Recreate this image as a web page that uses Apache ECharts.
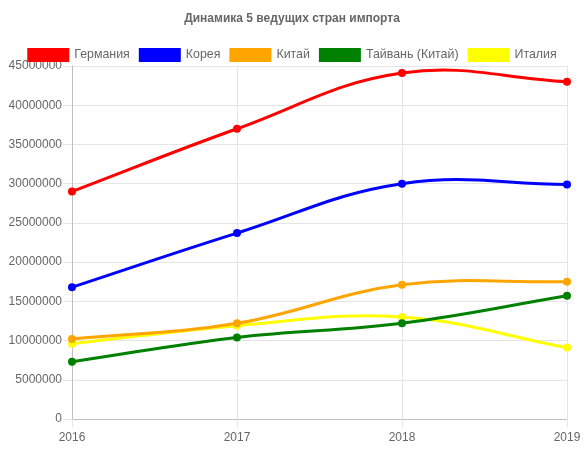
<!DOCTYPE html>
<html><head><meta charset="utf-8">
<script src="https://cdn.jsdelivr.net/npm/echarts@6/dist/echarts.min.js"></script>
<style>html,body{margin:0;padding:0;background:#fff}#c{width:584px;height:450px}</style>
</head><body><div id="c"></div>
<script>
const years = ['2016','2017','2018','2019'];
const germany = [29000000, 37000000, 44100000, 43000000];
const korea = [16800000, 23700000, 30000000, 29900000];
const china = [10200000, 12200000, 17100000, 17500000];
const taiwan = [7300000, 10400000, 12200000, 15700000];
const italy = [9600000, 11900000, 13000000, 9100000];
const names = ['Германия','Корея','Китай','Тайвань (Китай)','Италия'];
const colors = ['#ff0000','#0000ff','#ffa500','#008000','#ffff00'];
const data = [germany, korea, china, taiwan, italy];

const TENSION = 0.4;
function makeSeries(i) {
  const vals = data[i];
  const color = colors[i];
  return {
    name: names[i], type: 'custom', z: 2 + (names.length - i),
    itemStyle: {color: color},
    encode: {x: 0, y: 1},
    data: vals.map((v, k) => [k, v]),
    renderItem: function (params, api) {
      const idx = params.dataIndex;
      const n = vals.length;
      const P = vals.map((v, k) => api.coord([k, v]));
      function cps(k) {
        const prev = P[Math.max(k - 1, 0)], cur = P[k], next = P[Math.min(k + 1, n - 1)];
        const d01 = Math.hypot(cur[0] - prev[0], cur[1] - prev[1]);
        const d12 = Math.hypot(next[0] - cur[0], next[1] - cur[1]);
        let s01 = d01 / (d01 + d12), s12 = d12 / (d01 + d12);
        if (isNaN(s01)) s01 = 0; if (isNaN(s12)) s12 = 0;
        const fa = TENSION * s01, fb = TENSION * s12;
        return [
          [cur[0] - fa * (next[0] - prev[0]), cur[1] - fa * (next[1] - prev[1])],
          [cur[0] + fb * (next[0] - prev[0]), cur[1] + fb * (next[1] - prev[1])]
        ];
      }
      const children = [];
      if (idx < n - 1) {
        const a = cps(idx)[1], b = cps(idx + 1)[0];
        children.push({
          type: 'bezierCurve',
          shape: {x1: P[idx][0], y1: P[idx][1], x2: P[idx + 1][0], y2: P[idx + 1][1],
                  cpx1: a[0], cpy1: a[1], cpx2: b[0], cpy2: b[1]},
          style: {stroke: color, lineWidth: 3, fill: null, lineCap: 'round'}
        });
      }
      children.push({type: 'circle', shape: {cx: P[idx][0], cy: P[idx][1], r: 4}, style: {fill: color}});
      return {type: 'group', children: children};
    }
  };
}

const chart = echarts.init(document.getElementById('c'), null, {renderer:'canvas'});
const font = '"Liberation Sans", Arial, sans-serif';
chart.setOption({
  animation:false,
  color: colors,
  title:{text:'Динамика 5 ведущих стран импорта', left:'center', top:8,
    textStyle:{fontFamily:font, fontSize:12, fontWeight:'bold', color:'#666'}},
  legend:{top:43, left:'center', icon:'rect', itemWidth:42, itemHeight:14, itemGap:9,
    textStyle:{fontFamily:font, fontSize:12.4, color:'#666'}, data:names},
  grid:{left:72, right:17, top:66, bottom:31, containLabel:false},
  xAxis:{type:'category', data:years, boundaryGap:false,
    axisLine:{lineStyle:{color:'#bfbfbf'}}, axisTick:{show:true, length:8, lineStyle:{color:'#e5e5e5'}},
    splitLine:{show:true, lineStyle:{color:'#e5e5e5'}},
    axisLabel:{fontFamily:font, fontSize:12, color:'#666', margin:13}},
  yAxis:{type:'value', min:0, max:45000000, interval:5000000,
    axisLine:{show:true, lineStyle:{color:'#bfbfbf'}}, axisTick:{show:true, length:9, lineStyle:{color:'#e5e5e5'}},
    splitLine:{show:true, lineStyle:{color:'#e5e5e5'}},
    axisLabel:{fontFamily:font, fontSize:12, color:'#666', margin:10, formatter: v => String(v)}},
  series: names.map((n, i) => makeSeries(i))
});
</script></body></html>
